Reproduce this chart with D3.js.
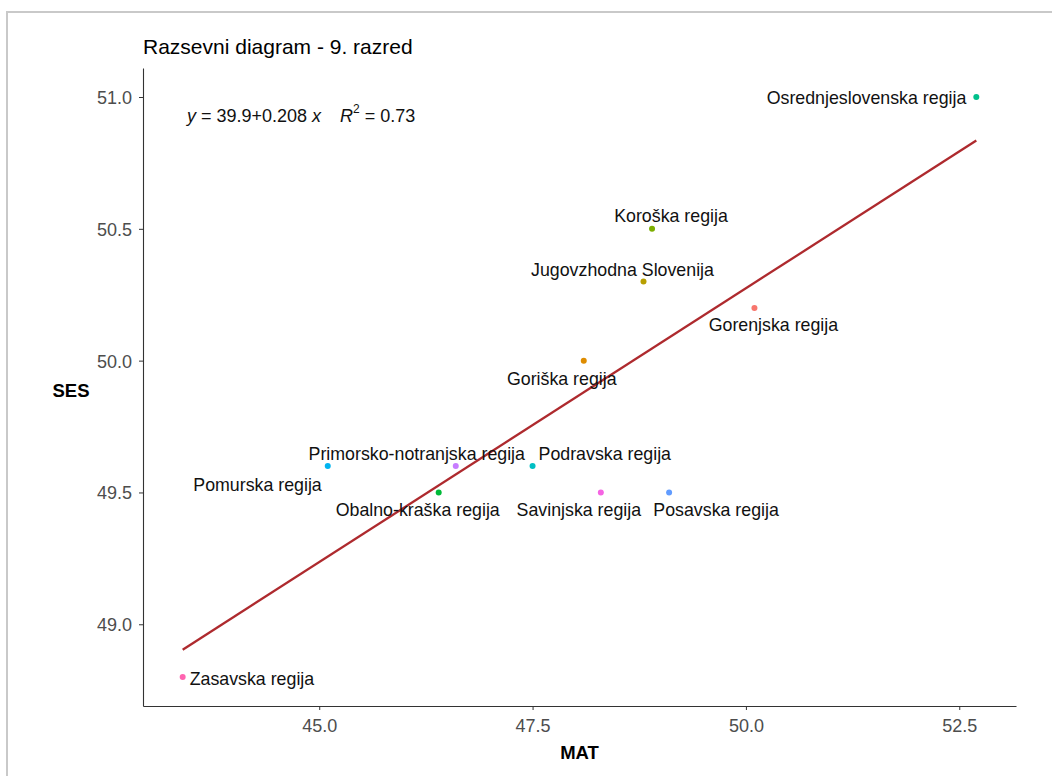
<!DOCTYPE html>
<html>
<head>
<meta charset="utf-8">
<script src="https://cdn.jsdelivr.net/npm/d3@7"></script>
<style>
  body { margin: 0; background: #fff; }
  svg text { font-family: "Liberation Sans", Arial, sans-serif; }
</style>
</head>
<body>
<div id="chart"></div>
<script>
// regions, alphabetical order (as the colour palette is assigned)
var regions = ["Gorenjska regija", "Goriška regija", "Jugovzhodna Slovenija", "Koroška regija",
               "Obalno-kraška regija", "Osrednjeslovenska regija", "Podravska regija", "Pomurska regija",
               "Posavska regija", "Primorsko-notranjska regija", "Savinjska regija", "Zasavska regija"];
var matValues = [50.1, 48.1, 48.8, 48.9, 46.4, 52.7, 47.5, 45.1, 49.1, 46.6, 48.3, 43.4];
var sesValues = [50.2, 50.0, 50.3, 50.5, 49.5, 51.0, 49.6, 49.6, 49.5, 49.6, 49.5, 48.8];
var xTicks = [45.0, 47.5, 50.0, 52.5];
var yTicks = [49.0, 49.5, 50.0, 50.5, 51.0];
var palette = ["#F8766D", "#DE8C00", "#B79F00", "#7CAE00", "#00BA38", "#00C08B",
               "#00BFC4", "#00B4F0", "#619CFF", "#C77CFF", "#F564E3", "#FF64B0"];

// label placement (repelled labels), offsets from the point in px
var labelPos = {
  "Gorenjska regija":            {dx: 19,  dy: 17,  a: "middle"},
  "Goriška regija":              {dx: -22, dy: 18,  a: "middle"},
  "Jugovzhodna Slovenija":       {dx: -21, dy: -12, a: "middle"},
  "Koroška regija":              {dx: 19,  dy: -13, a: "middle"},
  "Obalno-kraška regija":        {dx: -21, dy: 17,  a: "middle"},
  "Osrednjeslovenska regija":    {dx: -10, dy: 1,   a: "end"},
  "Podravska regija":            {dx: 6,   dy: -12, a: "start"},
  "Pomurska regija":             {dx: -6,  dy: 19,  a: "end"},
  "Posavska regija":             {dx: 47,  dy: 17,  a: "middle"},
  "Primorsko-notranjska regija": {dx: -39, dy: -12, a: "middle"},
  "Savinjska regija":            {dx: -22, dy: 17,  a: "middle"},
  "Zasavska regija":             {dx: 7,   dy: 2,   a: "start"}
};

var data = regions.map(function(name, i) {
  return {name: name, mat: matValues[i], ses: sesValues[i], color: palette[i]};
});

var W = 1052, H = 776;
var margin = {top: 68, right: 36, bottom: 70, left: 143};

var svg = d3.select("#chart").append("svg")
  .attr("width", W).attr("height", H);

// outer grey frame
svg.append("rect")
  .attr("x", 7).attr("y", 12)
  .attr("width", W + 10).attr("height", H + 10)
  .attr("fill", "none").attr("stroke", "#c9c9c9").attr("stroke-width", 2);

// ggplot style 5% expansion
var xExt = d3.extent(matValues), yExt = d3.extent(sesValues);
var xPad = (xExt[1] - xExt[0]) * 0.05, yPad = (yExt[1] - yExt[0]) * 0.05;

var x = d3.scaleLinear()
  .domain([xExt[0] - xPad, xExt[1] + xPad])
  .range([margin.left, W - margin.right]);
var y = d3.scaleLinear()
  .domain([yExt[0] - yPad, yExt[1] + yPad])
  .range([H - margin.bottom, margin.top]);

// least squares fit
var mx = d3.mean(matValues), my = d3.mean(sesValues);
var sxy = d3.sum(data, function(d) { return (d.mat - mx) * (d.ses - my); });
var sxx = d3.sum(data, function(d) { return (d.mat - mx) * (d.mat - mx); });
var slope = sxy / sxx, intercept = my - slope * mx;

svg.append("line")
  .attr("x1", x(xExt[0])).attr("y1", y(intercept + slope * xExt[0]))
  .attr("x2", x(xExt[1])).attr("y2", y(intercept + slope * xExt[1]))
  .attr("stroke", "#ae2a2e").attr("stroke-width", 2.3);

// axes
var xAxis = svg.append("g")
  .attr("transform", "translate(0," + (H - margin.bottom) + ")")
  .call(d3.axisBottom(x).tickValues(xTicks).tickFormat(d3.format(".1f"))
        .tickSize(4).tickSizeOuter(0).tickPadding(9));
var yAxis = svg.append("g")
  .attr("transform", "translate(" + margin.left + ",0)")
  .call(d3.axisLeft(y).tickValues(yTicks).tickFormat(d3.format(".1f"))
        .tickSize(4).tickSizeOuter(0).tickPadding(7));

[xAxis, yAxis].forEach(function(g) {
  g.select(".domain").attr("stroke", "#333").attr("stroke-width", 1.1);
  g.selectAll(".tick line").attr("stroke", "#333");
  g.selectAll(".tick text").attr("fill", "#4d4d4d").style("font-size", "18px");
});
yAxis.selectAll(".tick text").attr("dy", "0.36em");

// points
svg.selectAll(".dot")
  .data(data)
  .enter().append("circle")
  .attr("cx", function(d) { return x(d.mat); })
  .attr("cy", function(d) { return y(d.ses); })
  .attr("r", 3)
  .attr("fill", function(d) { return d.color; });

// labels
svg.selectAll(".lbl")
  .data(data)
  .enter().append("text")
  .attr("x", function(d) { return x(d.mat) + labelPos[d.name].dx; })
  .attr("y", function(d) { return y(d.ses) + labelPos[d.name].dy; })
  .attr("dy", "0.35em")
  .attr("text-anchor", function(d) { return labelPos[d.name].a; })
  .attr("fill", "#111")
  .style("font-size", "17.8px")
  .text(function(d) { return d.name; });

// regression equation
var eq = svg.append("text")
  .attr("x", 187).attr("y", 122)
  .attr("fill", "#111")
  .style("font-size", "18px");
eq.append("tspan").style("font-style", "italic").text("y");
eq.append("tspan").text(" = " + intercept.toFixed(1) + "+" + slope.toFixed(3) + " ");
eq.append("tspan").style("font-style", "italic").text("x");
eq.append("tspan").attr("x", 340).style("font-style", "italic").text("R");
eq.append("tspan").attr("dy", -9).style("font-size", "12px").text("2");
eq.append("tspan").attr("dy", 9).text(" = 0.73");

// title
svg.append("text")
  .attr("x", 143).attr("y", 54)
  .attr("fill", "#000")
  .style("font-size", "21px")
  .text("Razsevni diagram - 9. razred");

// axis titles
svg.append("text")
  .attr("x", (margin.left + W - margin.right) / 2).attr("y", 759)
  .attr("text-anchor", "middle")
  .style("font-size", "18.5px").style("font-weight", "bold")
  .text("MAT");
svg.append("text")
  .attr("x", 71).attr("y", 397)
  .attr("text-anchor", "middle")
  .style("font-size", "18.5px").style("font-weight", "bold")
  .text("SES");
</script>
</body>
</html>
